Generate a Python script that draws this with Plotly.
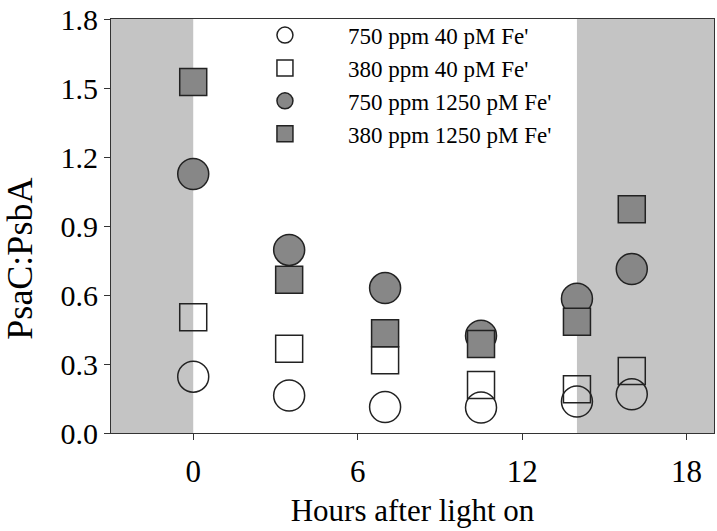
import plotly.graph_objects as go

hours = [0, 3.5, 7, 10.5, 14, 16]
series_names = ["750 ppm 40 pM Fe'", "380 ppm 40 pM Fe'", "750 ppm 1250 pM Fe'", "380 ppm 1250 pM Fe'"]
open_circle = [0.245, 0.163, 0.113, 0.111, 0.137, 0.168]
open_square = [0.503, 0.366, 0.316, 0.209, 0.190, 0.270]
filled_circle = [1.126, 0.796, 0.630, 0.423, 0.584, 0.713]
filled_square = [1.526, 0.666, 0.434, 0.387, 0.484, 0.973]
x_ticks = [0, 6, 12, 18]
y_ticks = [0.0, 0.3, 0.6, 0.9, 1.2, 1.5, 1.8]
dark_periods = [(-3, 0), (14, 19)]

FONT = "Liberation Serif, Times New Roman, serif"
GRAY = "#878787"
EDGE = "#222222"

fig = go.Figure()
# draw order: open square, open circle, filled circle, filled square
traces = [
    (series_names[1], open_square, "square", 27, "rgba(0,0,0,0)", 2),
    (series_names[0], open_circle, "circle", 31, "rgba(0,0,0,0)", 1),
    (series_names[2], filled_circle, "circle", 31, GRAY, 3),
    (series_names[3], filled_square, "square", 27, GRAY, 4),
]
for name, ys, sym, size, fill, rank in traces:
    marker = dict(symbol=sym, size=size, color=fill,
                  line=dict(color=EDGE, width=1.5))
    fig.add_trace(go.Scatter(x=hours, y=ys, mode="markers", name=name,
                             marker=marker, legendrank=rank))

for x0, x1 in dark_periods:
    fig.add_shape(type="rect", xref="x", yref="y", x0=x0, x1=x1, y0=0, y1=1.8,
                  fillcolor="#c4c4c4", line=dict(width=0), layer="below")

fig.add_annotation(text="PsaC:PsbA", xref="paper", yref="paper",
                   x=-0.151, y=0.421, xanchor="center", yanchor="middle",
                   textangle=-90, showarrow=False,
                   font=dict(size=36, family=FONT, color="black"))

fig.update_layout(
    width=717, height=531,
    margin=dict(l=111, r=2, t=13, b=98),
    paper_bgcolor="white", plot_bgcolor="white",
    font=dict(family=FONT, color="black"),
    showlegend=True,
    legend=dict(x=0.184, y=1.013, xanchor="left", yanchor="top",
                bgcolor="rgba(0,0,0,0)", font=dict(size=23, family=FONT),
                itemwidth=116, tracegroupgap=0),
    xaxis=dict(range=[-3, 19], tickvals=x_ticks, ticks="outside", ticklen=6,
               tickwidth=1.2, tickcolor="#333", showline=True, linecolor="#333",
               linewidth=1.2, mirror=True, showgrid=False, zeroline=False,
               ticklabeloverflow="allow", ticklabelstandoff=5,
               tickfont=dict(size=31), title=dict(text="Hours after light on",
               font=dict(size=31), standoff=11)),
    yaxis=dict(range=[0, 1.8], tickvals=y_ticks, tickformat=".1f", ticks="outside",
               ticklen=6, tickwidth=1.2, tickcolor="#333", showline=True,
               linecolor="#333", linewidth=1.2, mirror=True, showgrid=False,
               zeroline=False, tickfont=dict(size=30), ticklabeloverflow="allow"),
)

fig.write_html("out.html", config={"displayModeBar": False},
               post_script="document.body.style.margin='0';")
